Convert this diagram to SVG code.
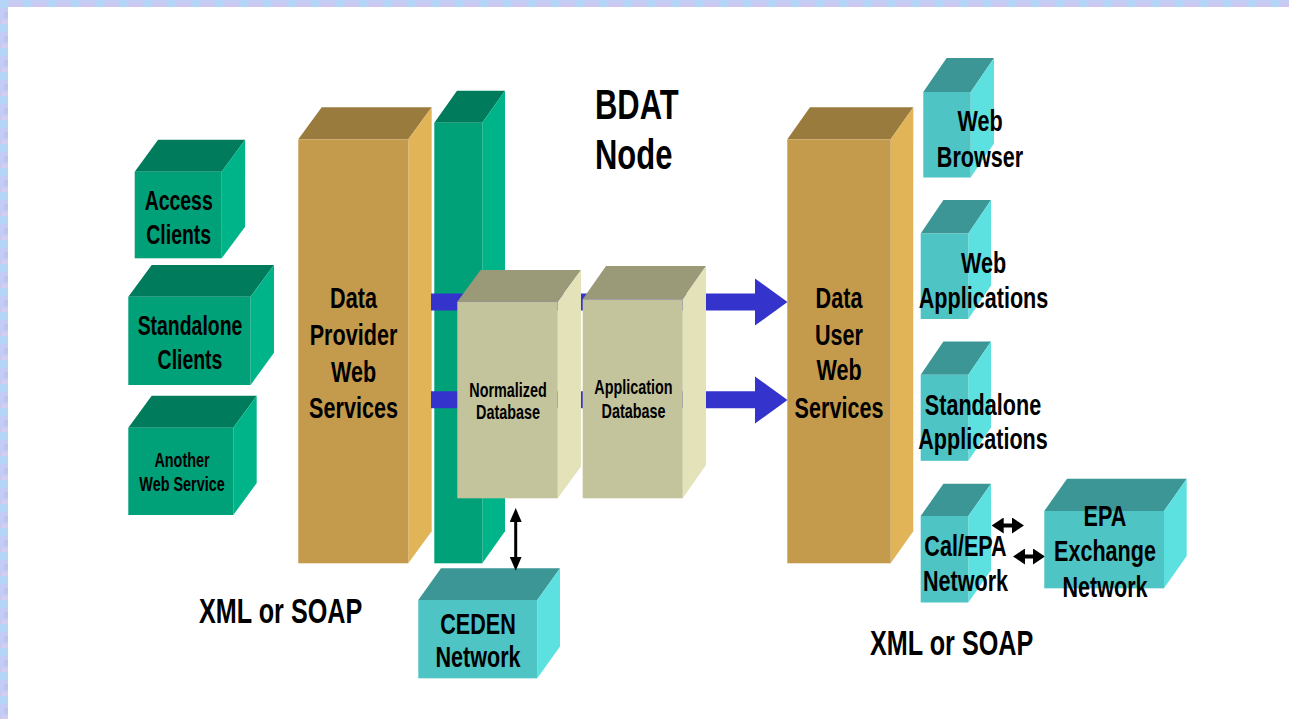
<svg xmlns="http://www.w3.org/2000/svg" width="1289" height="719" viewBox="0 0 1289 719">
<style>
.t{font-family:"Liberation Sans",Arial,Helvetica,sans-serif;font-weight:bold;fill:#000;text-anchor:middle}
.s20{font-size:20px}.s27{font-size:27px}.s30{font-size:30px}.s35{font-size:35px}.s43{font-size:43px}
.gF{fill:#00A078}.gT{fill:#007C5C}.gS{fill:#00B48A}
.oF{fill:#C49A4C}.oT{fill:#9A7B3E}.oS{fill:#E2B458}
.dF{fill:#C4C49C}.dT{fill:#9B9A78}.dS{fill:#E3E2B8}
.cF{fill:#4EC4C4}.cT{fill:#3D9696}.cS{fill:#5DE0E0}
.blue{fill:#3434CC}
.dbl{stroke:#000;stroke-width:3;fill:none;marker-start:url(#ah);marker-end:url(#ah)}
.dbl2{stroke:#000;stroke-width:4;fill:none;marker-start:url(#ah2);marker-end:url(#ah2)}
</style>
<defs>
<pattern id="tex" width="24" height="24" patternUnits="userSpaceOnUse">
<rect width="24" height="24" fill="#C4CCF4"/>
<rect x="0" y="0" width="8" height="8" fill="#B4D6F6"/>
<rect x="12" y="4" width="8" height="6" fill="#D2C6F0"/>
<rect x="4" y="12" width="10" height="6" fill="#BCC4F2"/>
<rect x="16" y="14" width="8" height="8" fill="#ACD2F6"/>
<rect x="2" y="20" width="6" height="4" fill="#D6CCF2"/>
</pattern>
<marker id="ah" viewBox="0 0 14 12" refX="6" refY="6" markerWidth="14" markerHeight="12" markerUnits="userSpaceOnUse" orient="auto-start-reverse">
<path d="M0,0 L14,6 L0,12 z" fill="#000"/>
</marker>
<marker id="ah2" viewBox="0 0 12 16" refX="4" refY="8" markerWidth="12" markerHeight="16" markerUnits="userSpaceOnUse" orient="auto-start-reverse">
<path d="M0,0 L12,8 L0,16 z" fill="#000"/>
</marker>
</defs>
<rect width="1289" height="719" fill="#fff"/>
<g id="frame">
<rect x="0" y="0" width="1289" height="7" fill="url(#tex)"/>
<rect x="0" y="0" width="8" height="719" fill="url(#tex)"/>
</g>

<g id="access-clients">
<polygon class="gT" points="134.7,171.7 158.1,139.7 245.1,139.7 221.7,171.7"/>
<polygon class="gS" points="221.7,171.7 245.1,139.7 245.1,226.7 221.7,258.3"/>
<rect class="gF" x="134.7" y="171.7" width="87" height="86.6"/>
<text class="t s27" transform="translate(178.7,209.5) scale(0.72,1)"><tspan x="0" y="0">Access</tspan><tspan x="0" y="34.5">Clients</tspan></text>
</g>

<g id="standalone-clients">
<polygon class="gT" points="128.3,296.7 151.7,265 274,265 250.6,296.7"/>
<polygon class="gS" points="250.6,296.7 274,265 274,352.7 250.6,385"/>
<rect class="gF" x="128.3" y="296.7" width="122.3" height="88.3"/>
<text class="t s27" transform="translate(190,335) scale(0.72,1)"><tspan x="0" y="0">Standalone</tspan><tspan x="0" y="34">Clients</tspan></text>
</g>

<g id="another-web-service">
<polygon class="gT" points="128.3,427.7 151.7,395.7 256.7,395.7 233.3,427.7"/>
<polygon class="gS" points="233.3,427.7 256.7,395.7 256.7,483 233.3,515"/>
<rect class="gF" x="128.3" y="427.7" width="105" height="87.3"/>
<text class="t s20" transform="translate(182,467) scale(0.72,1)"><tspan x="0" y="0">Another</tspan><tspan x="0" y="24">Web Service</tspan></text>
</g>

<g id="data-provider-web-services">
<polygon class="oT" points="298.3,139.3 321.7,107.3 431.7,107.3 408.3,139.3"/>
<polygon class="oS" points="408.3,139.3 431.7,107.3 431.7,531.3 408.3,563.3"/>
<rect class="oF" x="298.3" y="139.3" width="110" height="424"/>
<text class="t s30" transform="translate(353.5,308) scale(0.72,1)"><tspan x="0" y="0">Data</tspan><tspan x="0" y="37.5">Provider</tspan><tspan x="0" y="74">Web</tspan><tspan x="0" y="110.5">Services</tspan></text>
</g>

<g id="green-bar">
<polygon class="gT" points="434.3,122.7 457,90.7 505,90.7 482.3,122.7"/>
<polygon class="gS" points="482.3,122.7 505,90.7 505,531.3 482.3,563.3"/>
<rect class="gF" x="434.3" y="122.7" width="48" height="440.6"/>
</g>

<g id="ceden-network">
<polygon class="cT" points="418.3,600 441,568.3 560,568.3 537.3,600"/>
<polygon class="cS" points="537.3,600 560,568.3 560,646.6 537.3,678.3"/>
<rect class="cF" x="418.3" y="600" width="119" height="78.3"/>
<text class="t s30" transform="translate(478,633.5) scale(0.72,1)"><tspan x="0" y="0">CEDEN</tspan><tspan x="0" y="33.5">Network</tspan></text>
</g>

<g id="connectors">
<polygon class="blue" points="431,293.5 755,293.5 755,278.5 787.5,302 755,325.5 755,310.5 431,310.5"/>
<polygon class="blue" points="431,391.3 755,391.3 755,376.5 787.5,400 755,423.5 755,408.3 431,408.3"/>
<line class="dbl" x1="515.7" y1="516" x2="515.7" y2="562.7"/>
<line class="dbl2" x1="999.7" y1="525.5" x2="1016" y2="525.5"/>
<line class="dbl2" x1="1021" y1="556.5" x2="1037" y2="556.5"/>
</g>

<g id="normalized-database">
<polygon class="dT" points="457.3,301.7 480.6,270 581,270 557.7,301.7"/>
<polygon class="dS" points="557.7,301.7 581,270 581,466.6 557.7,498.3"/>
<rect class="dF" x="457.3" y="301.7" width="100.4" height="196.6"/>
<text class="t s20" transform="translate(508,397) scale(0.72,1)"><tspan x="0" y="0">Normalized</tspan><tspan x="0" y="22.5">Database</tspan></text>
</g>

<g id="application-database">
<polygon class="dT" points="582.7,299.3 606,266 706,266 682.7,299.3"/>
<polygon class="dS" points="682.7,299.3 706,266 706,465 682.7,498.3"/>
<rect class="dF" x="582.7" y="299.3" width="100" height="199"/>
<text class="t s20" transform="translate(633.5,393.5) scale(0.72,1)"><tspan x="0" y="0">Application</tspan><tspan x="0" y="25">Database</tspan></text>
</g>

<g id="bdat-node">
<text class="t s43" style="text-anchor:start" transform="translate(595,119.3) scale(0.72,1)"><tspan x="0" y="0">BDAT</tspan><tspan x="0" y="50">Node</tspan></text>
</g>

<g id="data-user-web-services">
<polygon class="oT" points="787.3,139.3 810,107.3 913.3,107.3 890.7,139.3"/>
<polygon class="oS" points="890.7,139.3 913.3,107.3 913.3,531.3 890.7,563.3"/>
<rect class="oF" x="787.3" y="139.3" width="103.4" height="424"/>
<text class="t s30" transform="translate(839,307.5) scale(0.72,1)"><tspan x="0" y="0">Data</tspan><tspan x="0" y="37.5">User</tspan><tspan x="0" y="73">Web</tspan><tspan x="0" y="110.5">Services</tspan></text>
</g>

<g id="web-browser">
<polygon class="cT" points="923.3,92 946.6,58 994,58 970.7,92"/>
<polygon class="cS" points="970.7,92 994,58 994,143.5 970.7,177.5"/>
<rect class="cF" x="923.3" y="92" width="47.4" height="85.5"/>
<text class="t s30" transform="translate(980,131) scale(0.72,1)"><tspan x="0" y="0">Web</tspan><tspan x="0" y="36">Browser</tspan></text>
</g>

<g id="web-applications">
<polygon class="cT" points="920.7,233.5 943.4,200 991,200 968.3,233.5"/>
<polygon class="cS" points="968.3,233.5 991,200 991,285.5 968.3,319"/>
<rect class="cF" x="920.7" y="233.5" width="47.6" height="85.5"/>
<text class="t s30" transform="translate(983.5,273) scale(0.72,1)"><tspan x="0" y="0">Web</tspan><tspan x="0" y="35">Applications</tspan></text>
</g>

<g id="standalone-applications">
<polygon class="cT" points="920.7,374.8 943.4,341.5 991,341.5 968.3,374.8"/>
<polygon class="cS" points="968.3,374.8 991,341.5 991,427.5 968.3,460.8"/>
<rect class="cF" x="920.7" y="374.8" width="47.6" height="86"/>
<text class="t s30" transform="translate(983,414.5) scale(0.72,1)"><tspan x="0" y="0">Standalone</tspan><tspan x="0" y="35">Applications</tspan></text>
</g>

<g id="cal-epa-network">
<polygon class="cT" points="920.7,516 943.4,483.7 991,483.7 968.3,516"/>
<polygon class="cS" points="968.3,516 991,483.7 991,570.2 968.3,602.5"/>
<rect class="cF" x="920.7" y="516" width="47.6" height="86.5"/>
<text class="t s30" transform="translate(965.5,556) scale(0.72,1)"><tspan x="0" y="0">Cal/EPA</tspan><tspan x="0" y="35.5">Network</tspan></text>
</g>

<g id="epa-exchange-network">
<polygon class="cT" points="1044.3,511 1067,478.7 1186.7,478.7 1164,511"/>
<polygon class="cS" points="1164,511 1186.7,478.7 1186.7,556 1164,588.3"/>
<rect class="cF" x="1044.3" y="511" width="119.7" height="77.3"/>
<text class="t s30" transform="translate(1105,525.5) scale(0.72,1)"><tspan x="0" y="0">EPA</tspan><tspan x="0" y="36">Exchange</tspan><tspan x="0" y="72">Network</tspan></text>
</g>

<g id="labels">
<text class="t s35" style="text-anchor:start" transform="translate(199,623) scale(0.72,1)">XML or SOAP</text>
<text class="t s35" style="text-anchor:start" transform="translate(870,655) scale(0.72,1)">XML or SOAP</text>
</g>
</svg>
